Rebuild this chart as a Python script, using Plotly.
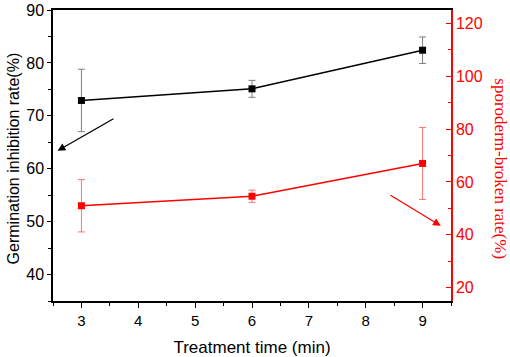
import plotly.graph_objects as go

times = [3, 6, 9]
inhibition = [72.9, 75.1, 82.4]
inhibition_err = [5.9, 1.6, 2.5]
broken = [51.0, 54.6, 67.0]
broken_err = [9.9, 2.3, 13.6]

FONT = "Liberation Sans, Arial, sans-serif"
RED = "#ff0000"

fig = go.Figure()
fig.add_trace(go.Scatter(
    x=times, y=inhibition, mode="lines+markers",
    line=dict(color="black", width=1.5),
    marker=dict(symbol="square", size=7, color="black"),
    error_y=dict(type="data", array=inhibition_err, color="#7f7f7f", thickness=1, width=3.5),
    showlegend=False, yaxis="y"))
fig.add_trace(go.Scatter(
    x=times, y=broken, mode="lines+markers",
    line=dict(color=RED, width=1.5),
    marker=dict(symbol="square", size=7, color=RED),
    error_y=dict(type="data", array=broken_err, color="rgba(255,70,70,0.75)", thickness=1, width=3.5),
    showlegend=False, yaxis="y2"))

fig.update_layout(
    width=510, height=357,
    margin=dict(l=53, r=59, t=9.5, b=56, autoexpand=False),
    plot_bgcolor="white", paper_bgcolor="white",
    font=dict(family=FONT, size=15, color="black"),
    xaxis=dict(range=[2.5, 9.5], dtick=1, tick0=3, showgrid=False, zeroline=False,
               automargin=False,
               showline=True, linecolor="black", linewidth=1.5, mirror=True,
               ticks="outside", ticklen=5, tickwidth=1.2, tickcolor="black",
               minor=dict(dtick=0.5, ticks="outside", ticklen=3, tickcolor="black"),
               title=dict(text="Treatment time (min)", font=dict(size=17))),
    yaxis=dict(range=[35, 90], dtick=10, tick0=0, showgrid=False, zeroline=False,
               automargin=False,
               showline=True, linecolor="black", linewidth=1.5,
               ticks="outside", ticklen=4, tickwidth=1.2, tickcolor="black",
               tickfont=dict(size=16),
               minor=dict(dtick=5, ticks="outside", ticklen=3, tickcolor="black")),
    yaxis2=dict(range=[15, 125], dtick=20, tick0=0, overlaying="y", side="right",
                showgrid=False, zeroline=False, automargin=False,
                showline=True, linecolor=RED, linewidth=1.5,
                ticks="inside", ticklen=5, tickwidth=1.2, tickcolor=RED,
                minor=dict(dtick=10, ticks="inside", ticklen=3, tickcolor=RED),
                tickfont=dict(color=RED, size=16)),
)

fig.add_annotation(x=0, xref="paper", xshift=-40, y=0.49, yref="paper",
                   xanchor="center", yanchor="middle",
                   text="Germination inhibition rate(%)", textangle=-90, showarrow=False,
                   font=dict(family=FONT, size=16, color="black"))
fig.add_annotation(x=1.0, xref="paper", xshift=50, y=0.456, yref="paper",
                   xanchor="center", yanchor="middle",
                   text="sporoderm-broken rate(%)", textangle=90, showarrow=False,
                   font=dict(family="Liberation Serif", size=17, color=RED))

fig.add_annotation(x=2.58, y=63.4, xref="x", yref="y", ax=3.59, ay=69.6, axref="x", ayref="y",
                   showarrow=True, arrowhead=2, arrowsize=1.2, arrowwidth=1.3, arrowcolor="black", text="")
fig.add_annotation(x=9.32, y=43.4, xref="x", yref="y2", ax=8.41, ay=55.3, axref="x", ayref="y2",
                   showarrow=True, arrowhead=2, arrowsize=1.2, arrowwidth=1.3, arrowcolor=RED, text="")

fig.write_html("out.html", config={"displayModeBar": False},
               post_script="document.body.style.margin='0';")
